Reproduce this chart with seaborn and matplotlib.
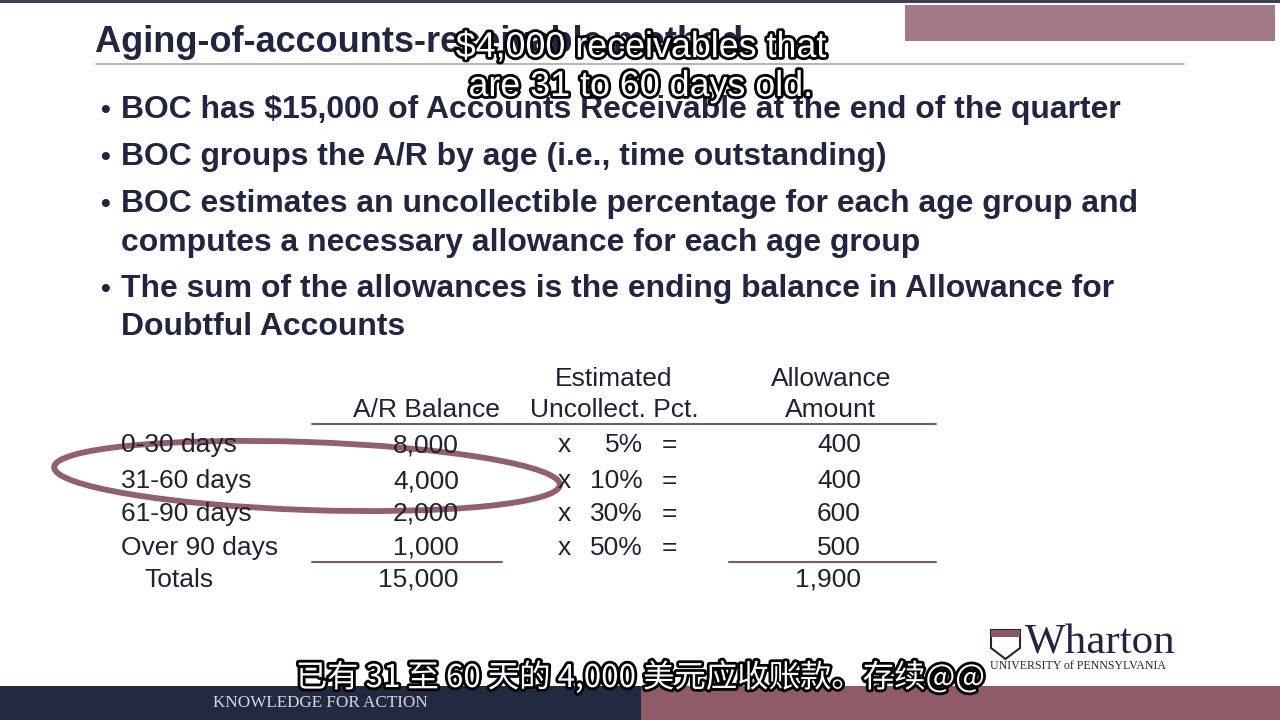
import numpy as np
import matplotlib
matplotlib.use("Agg")
import matplotlib.pyplot as plt
import matplotlib.patheffects as pe
from matplotlib.patches import Ellipse, Rectangle, Polygon
import seaborn as sns

# ---- slide content ----
title = "Aging-of-accounts-receivable method"
bullets = [
    ["BOC has $15,000 of Accounts Receivable at the end of the quarter"],
    ["BOC groups the A/R by age (i.e., time outstanding)"],
    ["BOC estimates an uncollectible percentage for each age group and",
     "computes a necessary allowance for each age group"],
    ["The sum of the allowances is the ending balance in Allowance for",
     "Doubtful Accounts"],
]
age_groups = ["0-30 days", "31-60 days", "61-90 days", "Over 90 days"]
ar_balance = [8000, 4000, 2000, 1000]
uncollect_pct = [5, 10, 30, 50]
allowance = [400, 400, 600, 500]
total_balance = 15000
total_allowance = 1900
caption_en = ["$4,000 receivables that", "are 31 to 60 days old."]
caption_zh = "已有 31 至 60 天的 4,000 美元应收账款。存续@@"

# ---- colours ----
NAVY = "#1f2542"
TEXT = "#1f2235"
MAROON = "#8d5664"
BAND_NAVY = "#222a42"
BAND_MAROON = "#8e5b67"

sns.set_theme(style="white")
plt.rcParams["font.family"] = ["Liberation Sans", "DejaVu Sans"]

fig = plt.figure(figsize=(12.8, 7.2), dpi=100)
ax = fig.add_axes([0, 0, 1, 1])
ax.set_xlim(0, 1280)
ax.set_ylim(720, 0)
ax.axis("off")

# top strip and boxed header area
ax.add_patch(Rectangle((0, 0), 1280, 2.5, color="#3a3f55", lw=0))
ax.add_patch(Rectangle((905, 5), 370, 36, color="#a17a83", lw=0))

# title + rule
ax.text(95, 52, title, fontsize=26, fontweight="bold", color=NAVY, va="baseline")
ax.plot([96, 1184], [63.5, 63.5], color="#b5b5b8", lw=1.4)

# bullets
line_base = [[118], [165], [212, 251], [297, 335]]
for lines, ys in zip(bullets, line_base):
    ax.text(100, ys[0], "•", fontsize=20, fontweight="bold", color=NAVY, va="baseline")
    for txt, y in zip(lines, ys):
        ax.text(121, y, txt, fontsize=22.95, fontweight="bold", color=NAVY, va="baseline")

# table
tfs = 19
ax.text(614, 386, "Estimated", fontsize=tfs, color=TEXT, ha="center", va="baseline")
ax.text(831, 386, "Allowance", fontsize=tfs, color=TEXT, ha="center", va="baseline")
ax.text(500, 417, "A/R Balance", fontsize=tfs, color=TEXT, ha="right", va="baseline")
ax.text(614, 417, "Uncollect. Pct.", fontsize=tfs, color=TEXT, ha="center", va="baseline")
ax.text(831, 417, "Amount", fontsize=tfs, color=TEXT, ha="center", va="baseline")
ax.plot([312, 936], [424, 424], color="#6d6068", lw=1.5)

row_y = [452, 488, 521, 555]
for y, grp, bal, pct, alw in zip(row_y, age_groups, ar_balance, uncollect_pct, allowance):
    ax.text(121, y, grp, fontsize=tfs, color=TEXT, va="baseline")
    ax.text(459, y, f"{bal:,}", fontsize=tfs, color=TEXT, ha="right", va="baseline")
    ax.text(564, y, "x", fontsize=tfs, color=TEXT, ha="center", va="baseline")
    ax.text(643, y, f"{pct}%", fontsize=tfs, color=TEXT, ha="right", va="baseline")
    ax.text(669, y, "=", fontsize=tfs, color=TEXT, ha="center", va="baseline")
    ax.text(861, y, f"{alw:,}", fontsize=tfs, color=TEXT, ha="right", va="baseline")
ax.plot([312, 502], [562, 562], color="#7a5a64", lw=1.5)
ax.plot([729, 936], [562, 562], color="#7a5a64", lw=1.5)
ax.text(144, 587, "Totals", fontsize=tfs, color=TEXT, va="baseline")
ax.text(459, 587, f"{total_balance:,}", fontsize=tfs, color=TEXT, ha="right", va="baseline")
ax.text(861, 587, f"{total_allowance:,}", fontsize=tfs, color=TEXT, ha="right", va="baseline")

# hand-drawn highlight around the 31-60 row
ax.add_patch(Ellipse((307, 476), 506, 68, angle=2, fill=False,
                     edgecolor=MAROON, lw=4.2, alpha=0.95))

# footer band
ax.add_patch(Rectangle((0, 686), 641, 34, color=BAND_NAVY, lw=0))
ax.add_patch(Rectangle((641, 686), 639, 34, color=BAND_MAROON, lw=0))
ax.text(320, 707, "KNOWLEDGE FOR ACTION", fontsize=12.3, color="#d6d6de",
        family="Liberation Serif", ha="center", va="baseline")

# Wharton logo
ax.add_patch(Polygon([(991, 630), (1020, 630), (1020, 648), (1005.5, 659), (991, 648)],
                     closed=True, facecolor="white", edgecolor=NAVY, lw=1.5))
ax.add_patch(Rectangle((991, 630), 29, 7, color=MAROON, lw=0))
ax.text(1025, 654, "Wharton", fontsize=31, color=NAVY, family="Liberation Serif",
        va="baseline")
ax.text(990, 669, "UNIVERSITY of PENNSYLVANIA", fontsize=8.6, color=NAVY,
        family="Liberation Serif", va="baseline")

# burned-in captions
stroke = [pe.withStroke(linewidth=4, foreground="black")]
for txt, y in zip(caption_en, [57, 96]):
    ax.text(641, y, txt, fontsize=25.8, color="white", ha="center", va="baseline",
            path_effects=stroke)
ax.text(640, 687, caption_zh, fontsize=22.6, color="white", ha="center", va="baseline",
        family=["Noto Sans CJK SC", "DejaVu Sans"], path_effects=stroke)

fig.savefig("out.png", dpi=100)
